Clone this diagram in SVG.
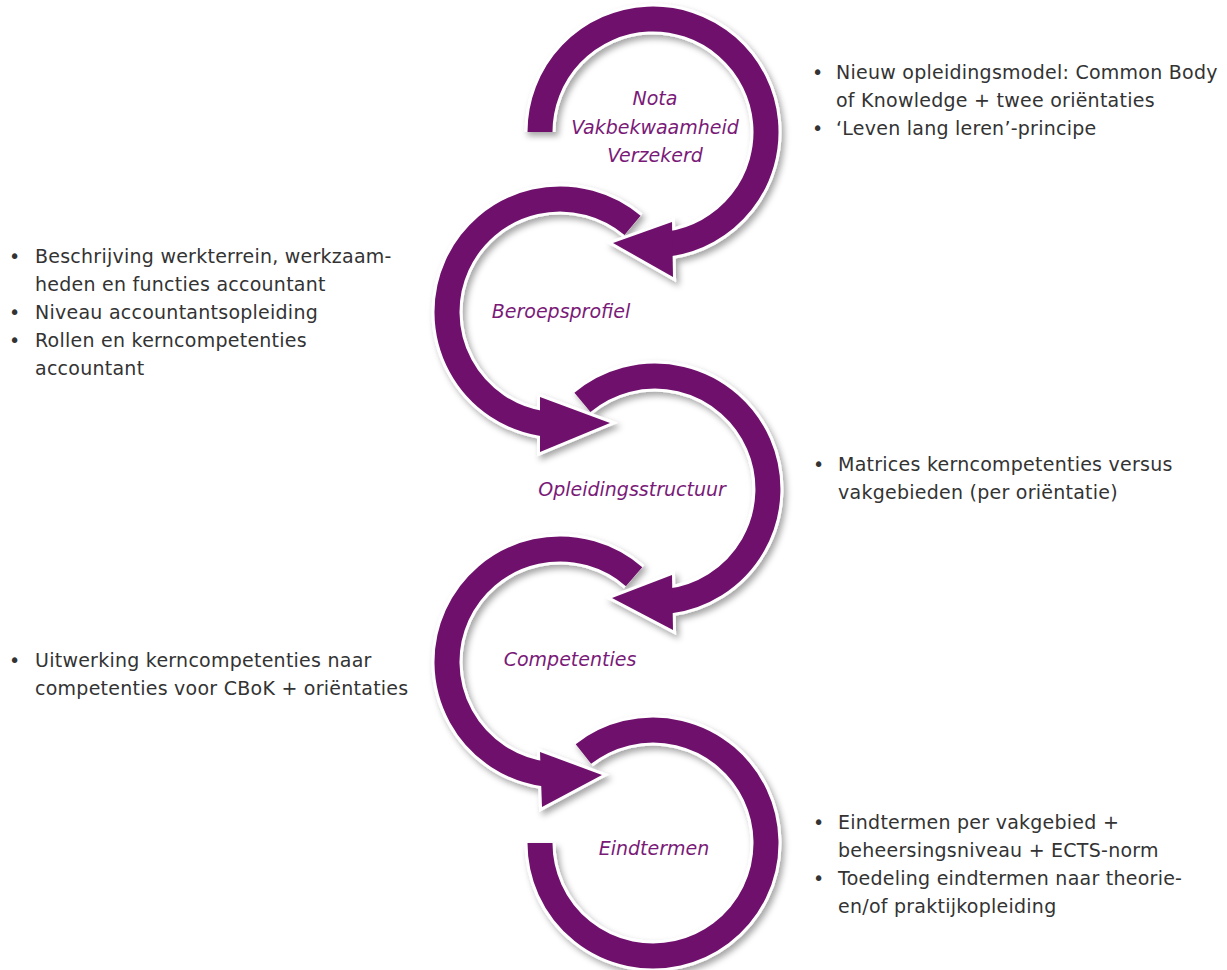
<svg xmlns="http://www.w3.org/2000/svg" width="1227" height="970" viewBox="0 0 1227 970">
<style>
.halo-arc{fill:none;stroke:#ffffff;stroke-width:31}
.halo-head{fill:#ffffff;stroke:#ffffff;stroke-width:6;stroke-linejoin:miter}
.arc{fill:none;stroke:#6f116c;stroke-width:25}
.head{fill:#6f116c}
.lbl{font-family:"DejaVu Sans","Verdana",sans-serif;font-style:italic;font-size:19px;fill:#7a1a78;text-anchor:middle}
.txt{font-family:"DejaVu Sans","Verdana",sans-serif;font-size:19px;letter-spacing:0.25px;fill:#333333}
</style>
<defs>
<filter id="sh" x="-20%" y="-20%" width="140%" height="140%">
<feDropShadow dx="3" dy="4" stdDeviation="3" flood-color="#000000" flood-opacity="0.35"/>
</filter>
</defs>
<rect width="1227" height="970" fill="#ffffff"/>
<g id="connectors">
<g id="arc5">
<g filter="url(#sh)">
<path class="halo-arc" d="M583.4,754 A113,113 0 1 1 540,843"/>
</g>
<path class="arc" d="M583.4,754 A113,113 0 1 1 540,843"/>
</g>
<g id="arc4">
<g filter="url(#sh)">
<path class="halo-arc" d="M634.1,576.7 A113,113 0 1 0 544.3,773.9"/>
<polygon class="halo-head" points="540,752 602,775 542,807"/>
</g>
<path class="arc" d="M634.1,576.7 A113,113 0 1 0 544.3,773.9"/>
<polygon class="head" points="540,752 602,775 542,807"/>
</g>
<g id="arc3">
<g filter="url(#sh)">
<path class="halo-arc" d="M582.4,402.4 A113,113 0 1 1 668.8,601.2"/>
<polygon class="halo-head" points="672,575 612,598 673,630"/>
</g>
<path class="arc" d="M582.4,402.4 A113,113 0 1 1 668.8,601.2"/>
<polygon class="head" points="672,575 612,598 673,630"/>
</g>
<g id="arc2">
<g filter="url(#sh)">
<path class="halo-arc" d="M632.6,225.4 A113,113 0 1 0 542.3,423.6"/>
<polygon class="halo-head" points="540,397 610,423 540,452"/>
</g>
<path class="arc" d="M632.6,225.4 A113,113 0 1 0 542.3,423.6"/>
<polygon class="head" points="540,397 610,423 540,452"/>
</g>
<g id="arc1">
<g filter="url(#sh)">
<path class="halo-arc" d="M540,132 A113,113 0 1 1 668.7,243.9"/>
<polygon class="halo-head" points="672,222 613,243 673,277"/>
</g>
<path class="arc" d="M540,132 A113,113 0 1 1 668.7,243.9"/>
<polygon class="head" points="672,222 613,243 673,277"/>
</g>
</g>
<g id="node-nota">
<text class="lbl" x="655" y="105">Nota</text>
<text class="lbl" x="655" y="134">Vakbekwaamheid</text>
<text class="lbl" x="655" y="162">Verzekerd</text>
<text class="txt" x="812" y="79">•</text>
<text class="txt" x="836" y="79">Nieuw opleidingsmodel: Common Body</text>
<text class="txt" x="836" y="107">of Knowledge + twee oriëntaties</text>
<text class="txt" x="812" y="135">•</text>
<text class="txt" x="836" y="135">‘Leven lang leren’-principe</text>
</g>
<g id="node-beroepsprofiel">
<text class="lbl" x="561" y="318">Beroepsprofiel</text>
<text class="txt" x="9" y="263">•</text>
<text class="txt" x="35" y="263">Beschrijving werkterrein, werkzaam-</text>
<text class="txt" x="35" y="291">heden en functies accountant</text>
<text class="txt" x="9" y="319">•</text>
<text class="txt" x="35" y="319">Niveau accountantsopleiding</text>
<text class="txt" x="9" y="347">•</text>
<text class="txt" x="35" y="347">Rollen en kerncompetenties</text>
<text class="txt" x="35" y="375">accountant</text>
</g>
<g id="node-opleidingsstructuur">
<text class="lbl" x="632" y="496">Opleidingsstructuur</text>
<text class="txt" x="813" y="471">•</text>
<text class="txt" x="838" y="471">Matrices kerncompetenties versus</text>
<text class="txt" x="838" y="499">vakgebieden (per oriëntatie)</text>
</g>
<g id="node-competenties">
<text class="lbl" x="570" y="666">Competenties</text>
<text class="txt" x="9" y="667">•</text>
<text class="txt" x="35" y="667">Uitwerking kerncompetenties naar</text>
<text class="txt" x="35" y="695">competenties voor CBoK + oriëntaties</text>
</g>
<g id="node-eindtermen">
<text class="lbl" x="654" y="855">Eindtermen</text>
<text class="txt" x="813" y="829">•</text>
<text class="txt" x="838" y="829">Eindtermen per vakgebied +</text>
<text class="txt" x="838" y="857">beheersingsniveau + ECTS-norm</text>
<text class="txt" x="813" y="885">•</text>
<text class="txt" x="838" y="885">Toedeling eindtermen naar theorie-</text>
<text class="txt" x="838" y="913">en/of praktijkopleiding</text>
</g>
</svg>
